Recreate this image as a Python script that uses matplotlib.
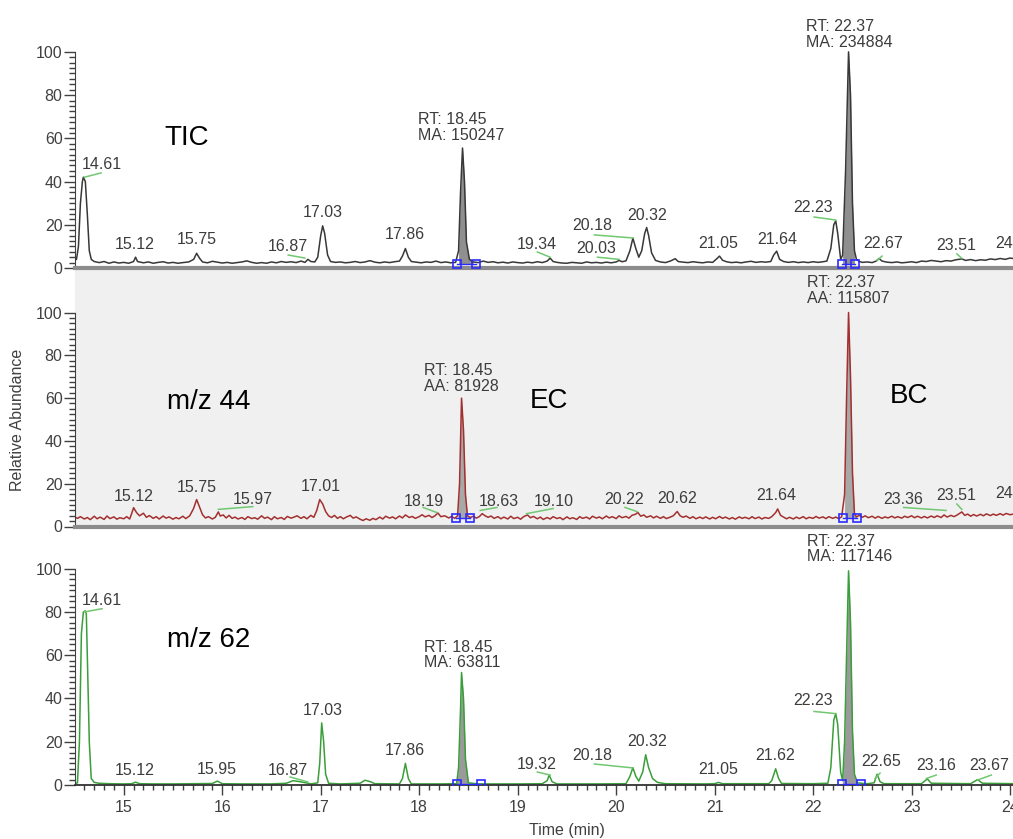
import numpy as np
import matplotlib
matplotlib.use("Agg")
import matplotlib.pyplot as plt

plt.rcParams["font.family"] = ["Liberation Sans", "DejaVu Sans"]

# --- data (time in min, relative abundance in %) ---

tic_points = [
    (14.50, 3.5), (14.52, 4.0), (14.54, 10), (14.56, 30), (14.58, 40), (14.59, 42), (14.61, 40),
    (14.63, 25), (14.65, 8), (14.67, 4), (14.70, 3), (14.75, 2.5), (14.80, 3), (14.85, 2.2),
    (14.90, 2.8), (14.95, 2.3), (15.00, 2.6), (15.05, 2.2), (15.10, 3.0), (15.12, 5.0), (15.14, 3.0),
    (15.20, 2.4), (15.25, 2.8), (15.30, 2.2), (15.35, 2.6), (15.40, 2.9), (15.45, 2.3), (15.50, 2.6),
    (15.55, 2.2), (15.60, 2.5), (15.66, 2.8), (15.71, 4.0), (15.74, 6.8), (15.77, 4.5), (15.80, 2.8),
    (15.85, 2.4), (15.90, 3.1), (15.95, 2.7), (16.00, 2.3), (16.05, 2.6), (16.10, 2.2), (16.15, 2.5),
    (16.20, 2.8), (16.25, 3.3), (16.30, 2.6), (16.35, 2.2), (16.40, 2.5), (16.45, 2.2), (16.50, 2.8),
    (16.55, 2.4), (16.60, 3.0), (16.65, 2.6), (16.70, 2.9), (16.75, 2.5), (16.80, 3.2), (16.84, 2.6),
    (16.87, 4.0), (16.90, 3.0), (16.94, 2.8), (16.97, 5), (17.00, 15), (17.02, 19.5), (17.04, 16),
    (17.07, 6), (17.10, 3), (17.15, 2.6), (17.20, 2.8), (17.25, 2.4), (17.30, 2.6), (17.35, 3.0),
    (17.40, 2.5), (17.45, 2.8), (17.50, 3.4), (17.55, 2.7), (17.60, 2.4), (17.65, 2.8), (17.70, 2.5),
    (17.75, 2.9), (17.80, 3.2), (17.83, 5.5), (17.86, 9.0), (17.89, 5.0), (17.92, 3.0), (17.97, 2.7),
    (18.02, 2.4), (18.07, 2.8), (18.12, 2.6), (18.17, 3.2), (18.22, 2.5), (18.27, 2.8), (18.32, 2.4),
    (18.37, 2.6), (18.40, 8), (18.42, 35), (18.44, 55.5), (18.46, 40), (18.48, 12), (18.51, 4),
    (18.55, 2.8), (18.60, 2.5), (18.65, 3.2), (18.70, 2.6), (18.75, 2.9), (18.80, 2.4), (18.85, 2.7),
    (18.90, 2.3), (18.95, 2.8), (19.00, 2.5), (19.05, 2.3), (19.10, 2.7), (19.15, 2.4), (19.20, 2.9),
    (19.25, 2.5), (19.30, 3.2), (19.33, 4.6), (19.36, 3.0), (19.40, 2.6), (19.45, 2.3), (19.50, 2.2),
    (19.55, 2.6), (19.60, 2.4), (19.65, 2.2), (19.70, 2.8), (19.75, 2.4), (19.80, 2.6), (19.85, 2.3),
    (19.90, 2.7), (19.95, 2.4), (20.00, 2.8), (20.03, 3.5), (20.06, 2.9), (20.10, 3.3), (20.14, 8),
    (20.17, 13.8), (20.20, 9), (20.23, 5), (20.26, 8), (20.29, 16), (20.31, 18.7), (20.33, 15),
    (20.36, 7), (20.40, 3.5), (20.45, 2.8), (20.50, 2.5), (20.55, 3.2), (20.60, 4.3), (20.63, 3),
    (20.68, 2.7), (20.73, 2.5), (20.78, 2.9), (20.83, 2.6), (20.88, 2.4), (20.93, 2.8), (20.98, 2.6),
    (21.02, 4.2), (21.05, 5.5), (21.08, 3.6), (21.12, 2.9), (21.17, 2.5), (21.22, 2.7), (21.27, 2.4),
    (21.32, 2.8), (21.37, 3.1), (21.42, 2.6), (21.47, 2.9), (21.52, 2.7), (21.57, 3.0), (21.60, 6),
    (21.63, 7.8), (21.66, 4), (21.70, 3), (21.75, 2.6), (21.80, 2.9), (21.85, 2.5), (21.90, 2.8),
    (21.95, 2.5), (22.00, 2.9), (22.05, 2.6), (22.10, 2.9), (22.14, 3.2), (22.18, 9), (22.21, 20),
    (22.23, 21.8), (22.25, 16), (22.28, 4), (22.30, 6), (22.33, 45), (22.36, 100), (22.38, 80),
    (22.40, 30), (22.42, 8), (22.44, 4), (22.47, 3), (22.50, 2.6), (22.55, 2.8), (22.60, 2.5),
    (22.64, 3.2), (22.67, 4.4), (22.70, 3.2), (22.75, 2.7), (22.80, 2.5), (22.85, 2.8), (22.90, 2.4),
    (22.95, 2.6), (23.00, 2.9), (23.05, 2.5), (23.10, 3.2), (23.15, 3.0), (23.20, 3.5), (23.25, 3.2),
    (23.30, 2.9), (23.35, 3.4), (23.40, 3.2), (23.45, 3.8), (23.51, 4.2), (23.55, 3.5), (23.60, 3.9),
    (23.65, 3.4), (23.70, 3.8), (23.75, 3.6), (23.80, 4.2), (23.85, 3.9), (23.90, 4.4), (23.95, 4.0),
    (24.00, 4.6), (24.05, 4.3),
]

mz44_points = [
    (14.50, 4.5), (14.53, 3.8), (14.56, 4.6), (14.60, 3.5), (14.63, 4.2), (14.66, 3.2), (14.70, 4.8),
    (14.73, 3.6), (14.76, 4.4), (14.80, 3.3), (14.83, 4.9), (14.86, 3.7), (14.90, 4.5), (14.93, 3.4),
    (14.96, 4.1), (15.00, 3.6), (15.03, 4.6), (15.06, 3.5), (15.08, 6.0), (15.10, 8.8), (15.13, 6.5),
    (15.16, 5.0), (15.20, 6.2), (15.23, 4.3), (15.26, 5.1), (15.30, 3.8), (15.33, 4.6), (15.36, 3.5),
    (15.40, 4.9), (15.43, 3.9), (15.46, 4.5), (15.50, 3.4), (15.53, 4.2), (15.56, 3.6), (15.60, 4.8),
    (15.63, 3.7), (15.67, 5.0), (15.71, 8.5), (15.74, 12.6), (15.77, 9.0), (15.80, 5.5), (15.83, 4.0),
    (15.86, 4.6), (15.90, 3.5), (15.93, 4.3), (15.96, 6.8), (15.98, 4.9), (16.01, 5.4), (16.04, 4.0),
    (16.07, 5.2), (16.10, 3.8), (16.13, 4.4), (16.16, 3.5), (16.20, 4.2), (16.23, 3.3), (16.26, 4.6),
    (16.30, 3.7), (16.33, 4.1), (16.36, 3.4), (16.40, 5.0), (16.43, 3.8), (16.46, 4.4), (16.50, 3.2),
    (16.53, 4.6), (16.56, 3.6), (16.60, 4.2), (16.63, 3.3), (16.66, 4.7), (16.70, 3.9), (16.73, 4.4),
    (16.76, 5.0), (16.80, 3.8), (16.83, 4.6), (16.86, 3.6), (16.90, 5.2), (16.93, 4.3), (16.96, 7.5),
    (16.99, 12.6), (17.02, 10.5), (17.05, 7.0), (17.08, 5.0), (17.11, 4.2), (17.14, 5.2), (17.17, 3.8),
    (17.20, 4.6), (17.23, 3.6), (17.26, 4.4), (17.30, 5.2), (17.33, 3.9), (17.36, 4.5), (17.40, 3.4),
    (17.43, 2.8), (17.46, 3.6), (17.50, 2.9), (17.53, 3.8), (17.56, 3.2), (17.60, 4.4), (17.63, 3.5),
    (17.66, 4.8), (17.70, 3.9), (17.73, 4.5), (17.76, 3.6), (17.80, 4.9), (17.83, 4.0), (17.86, 5.4),
    (17.90, 4.2), (17.93, 4.7), (17.96, 3.8), (18.00, 4.6), (18.03, 5.5), (18.06, 4.5), (18.10, 5.2),
    (18.13, 4.2), (18.16, 5.0), (18.19, 6.3), (18.22, 4.6), (18.26, 5.0), (18.30, 4.0), (18.33, 4.7),
    (18.36, 3.8), (18.39, 5.0), (18.41, 20), (18.43, 60), (18.45, 45), (18.47, 15), (18.49, 5),
    (18.52, 4.2), (18.55, 4.8), (18.58, 3.9), (18.61, 4.6), (18.64, 6.0), (18.67, 5.0), (18.70, 4.3),
    (18.73, 4.9), (18.76, 3.8), (18.80, 4.6), (18.83, 3.6), (18.86, 4.4), (18.90, 3.5), (18.93, 4.8),
    (18.96, 3.7), (19.00, 4.3), (19.03, 3.4), (19.06, 4.6), (19.10, 5.4), (19.13, 4.1), (19.16, 4.7),
    (19.20, 3.6), (19.23, 4.4), (19.26, 3.3), (19.30, 4.2), (19.33, 3.5), (19.36, 4.6), (19.40, 3.7),
    (19.43, 4.2), (19.46, 3.2), (19.50, 4.5), (19.53, 3.6), (19.56, 4.1), (19.60, 3.3), (19.63, 4.6),
    (19.66, 3.8), (19.70, 4.4), (19.73, 3.5), (19.76, 4.8), (19.80, 3.9), (19.83, 4.5), (19.86, 3.6),
    (19.90, 4.9), (19.93, 4.0), (19.96, 4.6), (20.00, 3.7), (20.03, 5.0), (20.06, 4.1), (20.10, 4.7),
    (20.13, 3.9), (20.16, 5.2), (20.20, 5.8), (20.22, 6.6), (20.25, 4.8), (20.28, 5.4), (20.31, 4.3),
    (20.35, 5.0), (20.38, 4.0), (20.41, 4.8), (20.45, 3.8), (20.48, 4.6), (20.51, 3.7), (20.55, 4.4),
    (20.58, 5.0), (20.62, 7.0), (20.65, 5.0), (20.68, 4.3), (20.71, 4.9), (20.75, 3.8), (20.78, 4.6),
    (20.81, 3.6), (20.85, 4.4), (20.88, 3.7), (20.91, 4.5), (20.95, 3.5), (20.98, 4.3), (21.01, 3.6),
    (21.05, 4.7), (21.08, 3.8), (21.11, 4.4), (21.15, 3.5), (21.18, 4.2), (21.21, 3.4), (21.25, 4.5),
    (21.28, 3.8), (21.31, 4.3), (21.35, 3.6), (21.38, 4.6), (21.41, 3.7), (21.45, 4.4), (21.48, 3.5),
    (21.51, 4.2), (21.55, 3.8), (21.58, 4.6), (21.62, 6.5), (21.64, 8.2), (21.67, 5.2), (21.70, 4.4),
    (21.73, 3.6), (21.76, 4.3), (21.80, 3.5), (21.83, 4.4), (21.86, 3.7), (21.90, 4.6), (21.93, 3.6),
    (21.96, 4.3), (22.00, 3.8), (22.03, 4.7), (22.06, 3.9), (22.10, 4.5), (22.13, 3.7), (22.16, 4.6),
    (22.20, 3.8), (22.23, 4.4), (22.26, 3.7), (22.29, 4.5), (22.32, 15), (22.34, 60), (22.36, 100),
    (22.38, 70), (22.40, 25), (22.42, 6), (22.44, 4.5), (22.47, 5.2), (22.50, 4.3), (22.53, 5.0),
    (22.56, 4.1), (22.60, 4.8), (22.63, 3.9), (22.66, 4.7), (22.70, 3.8), (22.73, 4.5), (22.76, 4.0),
    (22.80, 4.8), (22.83, 4.0), (22.86, 4.6), (22.90, 3.9), (22.93, 4.8), (22.96, 4.2), (23.00, 5.0),
    (23.03, 4.1), (23.06, 4.8), (23.10, 4.0), (23.13, 4.7), (23.16, 4.0), (23.20, 4.9), (23.23, 4.2),
    (23.26, 5.0), (23.30, 4.2), (23.33, 5.4), (23.36, 4.4), (23.40, 5.2), (23.43, 4.6), (23.46, 5.3),
    (23.51, 6.8), (23.54, 5.2), (23.57, 5.8), (23.60, 4.8), (23.63, 5.6), (23.66, 4.9), (23.70, 5.7),
    (23.73, 5.0), (23.76, 5.9), (23.80, 5.1), (23.83, 5.8), (23.86, 5.2), (23.90, 6.0), (23.93, 5.3),
    (23.96, 6.1), (24.00, 5.5), (24.05, 6.0),
]

mz62_points = [
    (14.50, 0.5), (14.53, 1), (14.55, 20), (14.57, 70), (14.59, 80), (14.61, 80.5), (14.62, 79),
    (14.63, 60), (14.65, 20), (14.67, 3), (14.70, 1.2), (14.75, 0.8), (14.85, 0.6), (15.00, 0.5),
    (15.08, 0.6), (15.12, 1.3), (15.16, 0.6), (15.30, 0.5), (15.50, 0.5), (15.70, 0.6), (15.90, 0.7),
    (15.95, 1.8), (16.00, 0.6), (16.20, 0.5), (16.50, 0.5), (16.65, 0.8), (16.72, 2.0), (16.78, 1.6),
    (16.85, 1.0), (16.90, 0.5), (16.97, 1.0), (16.99, 10), (17.01, 28.7), (17.03, 20), (17.05, 5),
    (17.08, 0.8), (17.20, 0.5), (17.40, 0.8), (17.45, 2.2), (17.50, 1.6), (17.55, 0.6), (17.80, 0.5),
    (17.83, 3), (17.86, 10), (17.89, 3), (17.92, 0.5), (18.20, 0.5), (18.38, 0.6), (18.40, 8),
    (18.42, 35), (18.43, 52), (18.45, 40), (18.47, 12), (18.50, 1), (18.60, 0.5), (19.00, 0.5),
    (19.25, 0.6), (19.30, 2), (19.32, 4.6), (19.35, 1.5), (19.40, 0.5), (19.80, 0.5), (20.10, 0.6),
    (20.14, 4), (20.17, 8), (20.20, 4), (20.23, 1.8), (20.27, 6), (20.30, 14), (20.33, 8), (20.37, 3),
    (20.42, 1.2), (20.50, 0.6), (20.90, 0.5), (21.00, 0.6), (21.04, 1.2), (21.08, 0.6), (21.55, 0.6),
    (21.58, 2), (21.62, 7.5), (21.65, 3), (21.68, 0.7), (22.00, 0.6), (22.15, 0.8), (22.18, 8),
    (22.21, 30), (22.23, 33), (22.25, 28), (22.28, 6), (22.30, 2), (22.32, 20), (22.35, 80),
    (22.36, 99), (22.38, 75), (22.40, 25), (22.42, 5), (22.45, 1), (22.55, 0.6), (22.62, 1),
    (22.65, 5), (22.68, 1.5), (22.72, 0.6), (23.10, 0.6), (23.16, 2.8), (23.20, 0.8), (23.60, 0.6),
    (23.67, 2.5), (23.72, 0.8), (24.05, 0.6),
]

# peak labels: text, time, abundance at the foot of the text
tic_labels = [
    ("14.61", 14.78, 44.4), ("15.12", 15.11, 7.4), ("15.75", 15.74, 9.7), ("16.87", 16.67, 6.5),
    ("17.03", 17.02, 22), ("17.86", 17.85, 12), ("RT: 18.45\nMA: 150247", 18.43, 58),
    ("19.34", 19.19, 7.4), ("20.18", 19.76, 16), ("20.03", 19.80, 5.5), ("20.32", 20.31, 21),
    ("21.05", 21.04, 8), ("21.64", 21.64, 9.8), ("22.23", 22.00, 24.5),
    ("RT: 22.37\nMA: 234884", 22.37, 101), ("22.67", 22.71, 8), ("23.51", 23.45, 7),
    ("24.01", 24.05, 8),
]
mz44_labels = [
    ("15.12", 15.10, 10.7), ("15.75", 15.74, 14.5), ("15.97", 16.31, 8.9), ("17.01", 17.00, 15),
    ("18.19", 18.05, 8.4), ("RT: 18.45\nAA: 81928", 18.43, 62), ("18.63", 18.81, 8.4),
    ("19.10", 19.37, 8.4), ("20.22", 20.08, 8.9), ("20.62", 20.62, 9.8), ("21.64", 21.63, 11.2),
    ("RT: 22.37\nAA: 115807", 22.36, 103), ("23.36", 22.91, 8.9), ("23.51", 23.45, 11.2),
    ("24.03", 24.05, 12),
]
mz62_labels = [
    ("14.61", 14.78, 82), ("15.12", 15.11, 3.2), ("15.95", 15.94, 3.7), ("16.87", 16.67, 3.2),
    ("17.03", 17.02, 31), ("17.86", 17.85, 12.5), ("RT: 18.45\nMA: 63811", 18.44, 53),
    ("19.32", 19.19, 6), ("20.18", 19.76, 10), ("20.32", 20.31, 16.7), ("21.05", 21.04, 3.7),
    ("21.62", 21.61, 10), ("22.23", 22.00, 35.6), ("RT: 22.37\nMA: 117146", 22.37, 102),
    ("22.65", 22.69, 7.4), ("23.16", 23.25, 5.5), ("23.67", 23.79, 5.5),
]

# green label leaders: t0, y0, t1, y1
tic_leaders = [
    (14.60, 42, 14.77, 44), (16.67, 6, 16.84, 4.6), (19.20, 7.4, 19.33, 5),
    (19.78, 15.3, 20.17, 13.9), (19.81, 5, 20.03, 4), (22.01, 23.6, 22.23, 22.2),
    (22.65, 3.5, 22.70, 5.5), (23.46, 6.5, 23.51, 4.5),
]
mz44_leaders = [
    (15.96, 8, 16.31, 9.3), (18.04, 8.9, 18.18, 6.5), (18.62, 7.5, 18.79, 8.9),
    (19.09, 6, 19.36, 8.4), (20.09, 8.9, 20.21, 7), (22.92, 8.9, 23.35, 7.5),
    (23.46, 10.5, 23.51, 8),
]
mz62_leaders = [
    (14.60, 80, 14.78, 81.5), (16.69, 3.7, 16.87, 1.4), (19.20, 6, 19.33, 4.6),
    (19.78, 9.7, 20.17, 7.9), (22.01, 34, 22.23, 33), (22.63, 3, 22.68, 5.5),
    (23.15, 3, 23.25, 4.6), (23.67, 2.3, 23.81, 4.6),
]

# integrated peaks: start, end, baseline level
tic_windows = [(18.38, 18.58, 2.0), (22.29, 22.43, 2.0)]
mz44_windows = [(18.37, 18.52, 4.0), (22.30, 22.45, 4.0)]
mz62_windows = [(18.38, 18.63, 0.6), (22.29, 22.49, 0.6)]

panel_names = ["TIC", "m/z 44", "m/z 62"]
compound_names = [("EC", 19.32, 55.6), ("BC", 22.97, 57.5)]


def draw_panel(ax, points, labels, leaders, windows, color, fill_color):
    t, v = np.array(points).T
    for start, end, base in windows:
        m = (t >= start) & (t <= end)
        ax.fill_between(t[m], v[m], base, color=fill_color, lw=0, zorder=1)
    ax.plot(t, v, color=color, lw=1.1, zorder=2)
    for t0, y0, t1, y1 in leaders:
        ax.plot([t0, t1], [y0, y1], color="#70c870", lw=1.1, zorder=2)
    for start, end, base in windows:
        ax.plot([start, end], [base, base], color="#2b2bff", lw=1, marker="s",
                mfc="none", ms=6, mew=1.2, zorder=3)
    for text, tx, ty in labels:
        ax.text(tx, ty, text, ha="center", va="bottom", multialignment="left",
                fontsize=11.5, color="#3c3c3c", linespacing=1.05, zorder=4)


def style_axes(ax, ytop, bottom_axis=False):
    ax.set_xlim(14.505, 24.03)
    ax.set_ylim(0, ytop)
    ax.spines["top"].set_visible(False)
    ax.spines["right"].set_visible(False)
    ax.spines["left"].set_bounds(0, 100)
    ax.spines["left"].set_color("#404040")
    ax.set_yticks([0, 20, 40, 60, 80, 100])
    ax.set_yticks(np.arange(0, 100.1, 2.5), minor=True)
    ax.tick_params(axis="y", which="major", length=8, width=1, color="#404040",
                   labelcolor="#404040", labelsize=11.5, pad=1)
    ax.tick_params(axis="y", which="minor", length=4, width=1, color="#404040")
    if bottom_axis:
        ax.spines["bottom"].set_color("#303030")
        ax.spines["bottom"].set_linewidth(1.3)
        ax.set_xticks(range(15, 25))
        ax.set_xticks(np.arange(14.6, 24.05, 0.1), minor=True)
        ax.tick_params(axis="x", which="major", length=7, width=1, color="#404040",
                       labelcolor="#404040", labelsize=11.5, pad=4)
        ax.tick_params(axis="x", which="minor", length=3.5, width=1, color="#404040")
    else:
        ax.spines["bottom"].set_color("#8c8c8c")
        ax.spines["bottom"].set_linewidth(3)
        ax.tick_params(axis="x", which="both", bottom=False, labelbottom=False)


def main():
    fig = plt.figure(figsize=(10.13, 8.39), dpi=100)
    left = 75 / 1013
    ax_top = fig.add_axes([left, 1 - 268 / 839, 1 - left, 268 / 839])
    ax_mid = fig.add_axes([left, 1 - 526.5 / 839, 1 - left, 258.5 / 839])
    ax_bot = fig.add_axes([left, 1 - 785 / 839, 1 - left, 258.5 / 839])
    ax_top.set_zorder(3)
    ax_mid.set_zorder(2)
    ax_bot.set_zorder(1)
    ax_mid.set_facecolor("#f0f0f0")

    draw_panel(ax_top, tic_points, tic_labels, tic_leaders, tic_windows, "#383838", "#8f8f8f")
    draw_panel(ax_mid, mz44_points, mz44_labels, mz44_leaders, mz44_windows, "#a3302f", "#a8a8a8")
    draw_panel(ax_bot, mz62_points, mz62_labels, mz62_leaders, mz62_windows, "#3a9e3a", "#9a9a9a")

    style_axes(ax_top, 124)
    style_axes(ax_mid, 120.8)
    style_axes(ax_bot, 119.5, bottom_axis=True)

    ax_top.text(15.41, 57, panel_names[0], fontsize=20, color="black")
    ax_mid.text(15.44, 55, panel_names[1], fontsize=20, color="black")
    ax_bot.text(15.44, 64, panel_names[2], fontsize=20, color="black")
    for name, tx, ty in compound_names:
        ax_mid.text(tx, ty, name, fontsize=20, color="black", ha="center")

    fig.text(18 / 1013, 1 - 420 / 839, "Relative Abundance", rotation=90,
             ha="center", va="center", fontsize=11.5, color="#404040")
    fig.text(567 / 1013, 1 - 830 / 839, "Time (min)", ha="center", va="center",
             fontsize=11.5, color="#404040")

    fig.savefig("out.png", dpi=100)


if __name__ == "__main__":
    main()
